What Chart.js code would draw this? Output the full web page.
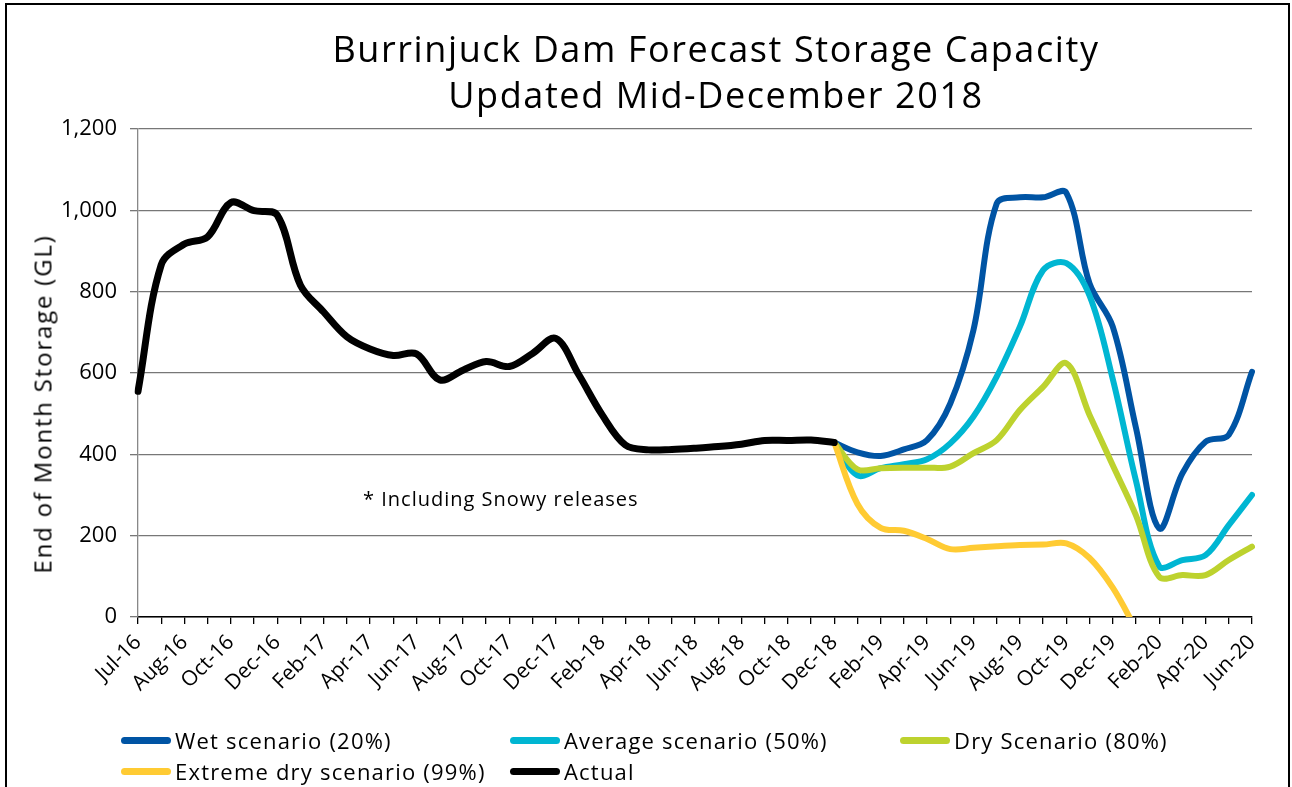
<!DOCTYPE html>
<html>
<head>
<meta charset="utf-8">
<script src="https://cdn.jsdelivr.net/npm/chart.js@4.4.1/dist/chart.umd.min.js"></script>
<style>
  body { margin: 0; background: #fff; font-family: "Open Sans", sans-serif; }
  #frame { position: absolute; left: 5px; top: 3px; width: 1281px; height: 820px; border: 2px solid #000; }
  #wrap { position: absolute; left: 0; top: 0; width: 1292px; height: 787px; overflow: hidden; }
  canvas { position: absolute; left: 0; top: 0; }
  .title { position: absolute; left: 716px; transform: translateX(-50%); white-space: nowrap; font-size: 36px; letter-spacing: 1.6px; color: #000; }
  #ytitle { position: absolute; left: 42px; top: 404px; transform: translate(-50%, -50%) rotate(-90deg); white-space: nowrap; font-size: 24px; letter-spacing: 1.8px; }
  #note { position: absolute; left: 363px; top: 485px; font-size: 20px; letter-spacing: 1px; white-space: nowrap; }
  .leg { position: absolute; display: flex; align-items: center; font-size: 22px; letter-spacing: 1.2px; white-space: nowrap; transform: translateY(-50%); }
  .leg span.mk { display: inline-block; width: 50px; height: 7px; border-radius: 4px; margin-right: 4px; }
</style>
</head>
<body>
<div id="wrap">
  <div id="frame"></div>
  <canvas id="myChart" width="1292" height="787"></canvas>
  <div class="title" style="top:24px">Burrinjuck Dam Forecast Storage Capacity</div>
  <div class="title" style="top:70px">Updated Mid-December 2018</div>
  <div id="ytitle">End of Month Storage (GL)</div>
  <div id="note">* Including Snowy releases</div>
</div>
<script>
// month-end dates (first point is start of Jul-16)
const months = ['Jul-16','Jul-16','Aug-16','Sep-16','Oct-16','Nov-16','Dec-16',
  'Jan-17','Feb-17','Mar-17','Apr-17','May-17','Jun-17','Jul-17','Aug-17','Sep-17','Oct-17','Nov-17','Dec-17',
  'Jan-18','Feb-18','Mar-18','Apr-18','May-18','Jun-18','Jul-18','Aug-18','Sep-18','Oct-18','Nov-18','Dec-18',
  'Jan-19','Feb-19','Mar-19','Apr-19','May-19','Jun-19','Jul-19','Aug-19','Sep-19','Oct-19','Nov-19','Dec-19',
  'Jan-20','Feb-20','Mar-20','Apr-20','May-20','Jun-20'];

const yTicks = [0, 200, 400, 600, 800, 1000, 1200];

const gap = null;
const actual = [555, 866, 917, 935, 1019, 999, 988, 816, 750, 689, 659, 643, 647, 583, 607, 628, 616, 648, 685, 595,
  497, 423, 411, 412, 415, 419, 425, 434, 434, 435, 429];

const wet = [429, 405, 396, 412, 435, 525, 706, 1017, 1032, 1032, 1043, 820, 714, 465, 218, 353, 431, 448, 603];
const average = [429, 348, 366, 376, 388, 427, 493, 591, 714, 853, 870, 790, 585, 335, 125, 140, 152, 226, 300];
const dry = [429, 363, 366, 367, 367, 370, 403, 435, 509, 566, 624, 497, 373, 250, 99, 103, 103, 140, 173];
const extremeDry = [429, 278, 219, 212, 192, 167, 170, 174, 177, 178, 181, 145, 72, -30];

const forecastStart = 30; // Dec-18
const pad = arr => Array(forecastStart).fill(gap).concat(arr);

const names = ['Wet scenario (20%)', 'Average scenario (50%)', 'Dry Scenario (80%)', 'Extreme dry scenario (99%)', 'Actual'];
const colors = ['#0054A4', '#00B6D2', '#BDD22E', '#FFCB33', '#000000'];

const font = '"Open Sans", sans-serif';

let ctx = document.getElementById('myChart').getContext('2d');
let chart = new Chart(ctx, {
  type: 'line',
  data: {
    labels: months,
    datasets: [
      { label: names[0], data: pad(wet), borderColor: colors[0], order: 5 },
      { label: names[1], data: pad(average), borderColor: colors[1], order: 4 },
      { label: names[2], data: pad(dry), borderColor: colors[2], order: 3 },
      { label: names[3], data: pad(extremeDry), borderColor: colors[3], order: 2 },
      { label: names[4], data: actual, borderColor: colors[4], borderWidth: 7, order: 1 }
    ]
  },
  options: {
    responsive: false,
    animation: false,
    layout: { padding: { left: 0, right: 40, top: 129, bottom: 0 } },
    plugins: { legend: { display: false }, tooltip: { enabled: false }, title: { display: false } },
    elements: {
      point: { radius: 0 },
      line: { tension: 0.35, borderWidth: 6, borderCapStyle: 'round', borderJoinStyle: 'round', fill: false }
    },
    scales: {
      x: {
        offset: false,
        grid: { drawOnChartArea: false, drawTicks: true, tickLength: 7, color: '#000', lineWidth: 1.3 },
        border: { color: '#000', width: 1.5 },
        ticks: {
          autoSkip: false, minRotation: 45, maxRotation: 45, padding: 6, color: '#000',
          font: { family: font, size: 21 },
          callback: (v, i) => (i % 2 === 0 ? months[i] : '')
        },
        afterFit: s => { s.height = 170; }
      },
      y: {
        min: 0, max: 1200,
        afterBuildTicks: s => { s.ticks = yTicks.map(v => ({ value: v })); },
        ticks: { color: '#000', padding: 13, font: { family: font, size: 22 } },
        grid: { color: '#777', lineWidth: 1.3, tickLength: 8 },
        border: { color: '#888', width: 1.3 },
        afterFit: s => { s.width = 138; }
      }
    }
  }
});

// legend laid out in columns like the original
const colLeft = [121, 510, 900];
const rowY = [740, 771];
chart.data.datasets.forEach((ds, k) => {
  const d = document.createElement('div');
  d.className = 'leg';
  d.style.left = colLeft[k % 3] + 'px';
  d.style.top = rowY[Math.floor(k / 3)] + 'px';
  d.innerHTML = '<span class="mk" style="background:' + ds.borderColor + '"></span>' + ds.label;
  document.getElementById('wrap').appendChild(d);
});
</script>
</body>
</html>
